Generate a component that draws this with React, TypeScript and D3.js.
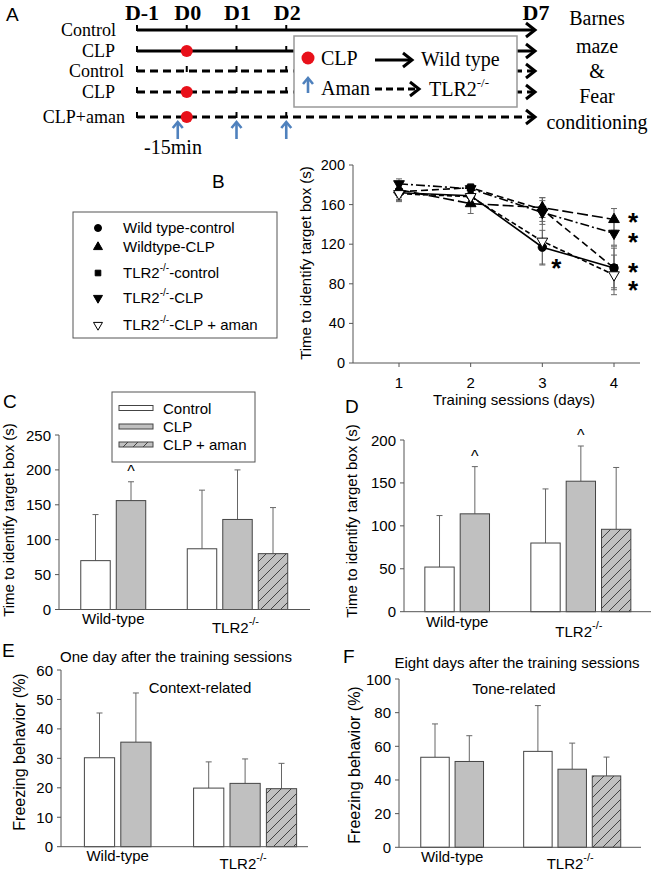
import React from "react";
import * as d3 from "d3";

// ---------------- Panel A: timeline ----------------
const timelineDays = [-1, 0, 1, 2, 7];
const timelineDayLabels = ["D-1", "D0", "D1", "D2", "D7"];
const aRowLabels = ["Control", "CLP", "Control", "CLP", "CLP+aman"];
const aRowDashed = [false, false, true, true, true];
const aRowCLP = [false, true, false, true, true];
const amanDays = [0, 1, 2];
const outcomeLines = ["Barnes", "maze", "&", "Fear", "conditioning"];

// ---------------- Panel B: training sessions ----------------
const sessions = [1, 2, 3, 4];
const bTicks = [0, 40, 80, 120, 160, 200];
const bWTControl = [172, 169, 117, 96];
const bWTControlErr = [8, 8, 17, 22];
const bWTCLP = [175, 161, 157, 145];
const bWTCLPErr = [8, 10, 10, 11];
const bTLRControl = [173, 177, 155, 96];
const bTLRControlErr = [8, 4, 12, 20];
const bTLRCLP = [181, 176, 152, 131];
const bTLRCLPErr = [5, 5, 12, 12];
const bTLRAman = [171, 168, 123, 89];
const bTLRAmanErr = [8, 9, 24, 20];
const bLegendLabels: [string, string, string][] = [
  ["Wild type-control", "", ""],
  ["Wildtype-CLP", "", ""],
  ["TLR2", "-/-", "-control"],
  ["TLR2", "-/-", "-CLP"],
  ["TLR2", "-/-", "-CLP + aman"],
];
// asterisks: [session, value position]
const bStars: [number, number][] = [
  [3, 101],
  [4, 147],
  [4, 127],
  [4, 97],
  [4, 79],
];

// ---------------- Bar panels ----------------
const groupNames = ["Wild-type", "TLR2"];
const seriesNames = ["Control", "CLP", "CLP + aman"];

const cControl = [70, 87];
const cControlErr = [66, 84];
const cCLP = [156, 129];
const cCLPErr = [27, 71];
const cAman = [null, 80];
const cAmanErr = [null, 66];
const cCarets: [number, number][] = [[0, 1]];

const dControl = [52, 80];
const dControlErr = [60, 63];
const dCLP = [114, 152];
const dCLPErr = [55, 41];
const dAman = [null, 96];
const dAmanErr = [null, 72];
const dCarets: [number, number][] = [[0, 1], [1, 1]];

const eControl = [30.2, 19.9];
const eControlErr = [15.2, 8.9];
const eCLP = [35.5, 21.5];
const eCLPErr = [16.7, 8.3];
const eAman = [null, 19.7];
const eAmanErr = [null, 8.6];

const fControl = [53.5, 57];
const fControlErr = [19.8, 27.2];
const fCLP = [51, 46.4];
const fCLPErr = [15.3, 15.5];
const fAman = [null, 42.4];
const fAmanErr = [null, 11.2];

const SANS = "'Liberation Sans', Arial, sans-serif";
const SERIF = "'Liberation Serif', 'Times New Roman', serif";
const AXIS = "#555";
const BAR_STROKE = "#444";
const GREY = "#c0c0c0";
const BLUE = "#4f81bd";
const RED = "#e8101a";

function Chevron({ x, y, color = "#000", w = 3 }: any) {
  return (
    <path
      d={`M${x - 9},${y - 7}L${x},${y}L${x - 9},${y + 7}`}
      fill="none"
      stroke={color}
      strokeWidth={w}
      strokeLinejoin="miter"
    />
  );
}

function UpArrow({ x, yTip, yTail }: any) {
  return (
    <g stroke={BLUE} strokeWidth={2.6} fill="none">
      <line x1={x} y1={yTail} x2={x} y2={yTip + 1} />
      <path d={`M${x - 5},${yTip + 6}L${x},${yTip}L${x + 5},${yTip + 6}`} />
    </g>
  );
}

function PanelA() {
  const ax = d3.scaleLinear().domain([-1, 7]).range([137, 535]);
  const rowY = [30, 51, 71, 92, 117];
  const labelRight = [116, 115, 124, 115, 125];
  const tickDays = timelineDays.filter((d) => d < 7);
  const end = ax(7);
  return (
    <g>
      <text x={6} y={21} fontFamily={SANS} fontSize={19}>A</text>
      {timelineDays.map((d, i) => (
        <text key={i} x={ax(d) + (d === -1 ? 5 : 1)} y={20} textAnchor="middle" fontFamily={SERIF} fontWeight="bold" fontSize={22}>
          {timelineDayLabels[i]}
        </text>
      ))}
      {aRowLabels.map((lab, i) => (
        <g key={i}>
          <text x={labelRight[i]} y={rowY[i] + 6} textAnchor="end" fontFamily={SERIF} fontSize={18}>{lab}</text>
          <line x1={ax(-1)} x2={end - 2} y1={rowY[i]} y2={rowY[i]} stroke="#000" strokeWidth={3} strokeDasharray={aRowDashed[i] ? "8,5" : undefined} />
          {tickDays.map((d) => (
            <line key={d} x1={ax(d)} x2={ax(d)} y1={rowY[i] + 1} y2={rowY[i] - 5} stroke="#000" strokeWidth={2} />
          ))}
          <Chevron x={end} y={rowY[i]} />
          {aRowCLP[i] && <circle cx={ax(0)} cy={rowY[i]} r={6} fill={RED} />}
        </g>
      ))}
      {amanDays.map((d) => (
        <UpArrow key={d} x={ax(d) - (d === 0 ? 9 : 0)} yTip={122} yTail={139} />
      ))}
      <text x={173} y={154} textAnchor="middle" fontFamily={SERIF} fontSize={20}>-15min</text>
      {/* legend box */}
      <rect x={294} y={36} width={223} height={71} fill="#fff" stroke="#999" strokeWidth={1.5} />
      <circle cx={308} cy={58} r={6.5} fill={RED} />
      <text x={321} y={65} fontFamily={SERIF} fontSize={20}>CLP</text>
      <line x1={375} x2={410} y1={60} y2={60} stroke="#000" strokeWidth={3} />
      <Chevron x={412} y={60} />
      <text x={421} y={66} fontFamily={SERIF} fontSize={20}>Wild type</text>
      <UpArrow x={308} yTip={78} yTail={93} />
      <text x={321} y={95} fontFamily={SERIF} fontSize={20}>Aman</text>
      <line x1={375} x2={417} y1={89} y2={89} stroke="#000" strokeWidth={3} strokeDasharray="7,4" />
      <Chevron x={419} y={89} />
      <text x={429} y={96} fontFamily={SERIF} fontSize={20}>
        TLR2<tspan fontSize={13} dy={-9}>-/-</tspan>
      </text>
      {outcomeLines.map((t, i) => (
        <text key={i} x={597} y={[25, 53, 78, 103, 129][i]} textAnchor="middle" fontFamily={SERIF} fontSize={20}>{t}</text>
      ))}
    </g>
  );
}

function PanelB() {
  const bx = d3.scaleLinear().domain([1, 4]).range([399, 614]);
  const by = d3.scaleLinear().domain([0, 200]).range([363, 165]);
  const series = [
    { v: bWTControl, e: bWTControlErr, sym: d3.symbolCircle, size: 55, rot: 0, fill: "#000", dash: undefined },
    { v: bWTCLP, e: bWTCLPErr, sym: d3.symbolTriangle, size: 50, rot: 0, fill: "#000", dash: "11,4" },
    { v: bTLRControl, e: bTLRControlErr, sym: d3.symbolSquare, size: 45, rot: 0, fill: "#000", dash: "7,4" },
    { v: bTLRCLP, e: bTLRCLPErr, sym: d3.symbolTriangle, size: 50, rot: 180, fill: "#000", dash: "9,3,2,3" },
    { v: bTLRAman, e: bTLRAmanErr, sym: d3.symbolTriangle, size: 50, rot: 180, fill: "#fff", dash: "5,3" },
  ];
  const line = d3.line<number>().x((_, i) => bx(sessions[i])).y((d) => by(d));
  const legendBase = [233, 252, 278, 303, 330];
  return (
    <g fontFamily={SANS}>
      <text x={212} y={188} fontSize={19}>B</text>
      {/* legend */}
      <rect x={73} y={212} width={204} height={126} fill="#fff" stroke={AXIS} strokeWidth={1} />
      {series.map((s, i) => (
        <g key={i}>
          <path d={d3.symbol(s.sym, s.size * 0.7)()!} transform={`translate(98,${legendBase[i] - 5}) rotate(${s.rot})`} fill={s.fill} stroke="#000" strokeWidth={1} />
          <text x={123} y={legendBase[i]} fontSize={15}>
            {bLegendLabels[i][0]}
            {bLegendLabels[i][1] && <tspan fontSize={10} dy={-7}>{bLegendLabels[i][1]}</tspan>}
            {bLegendLabels[i][2] && <tspan dy={bLegendLabels[i][1] ? 7 : 0}>{bLegendLabels[i][2]}</tspan>}
          </text>
        </g>
      ))}
      {/* axes */}
      <line x1={353} x2={353} y1={by(200)} y2={by(0)} stroke={AXIS} />
      <line x1={353} x2={640} y1={by(0)} y2={by(0)} stroke={AXIS} />
      {bTicks.map((t) => (
        <g key={t}>
          <line x1={349} x2={353} y1={by(t)} y2={by(t)} stroke={AXIS} />
          <text x={345} y={by(t) + 5} textAnchor="end" fontSize={14.5}>{t}</text>
        </g>
      ))}
      {sessions.map((s) => (
        <g key={s}>
          <line x1={bx(s)} x2={bx(s)} y1={by(0)} y2={by(0) + 4} stroke={AXIS} />
          <text x={bx(s)} y={388} textAnchor="middle" fontSize={15}>{s}</text>
        </g>
      ))}
      <text x={514} y={405} textAnchor="middle" fontSize={15}>Training sessions (days)</text>
      <text transform={`translate(311,${by(100) - 1}) rotate(-90)`} textAnchor="middle" fontSize={15}>Time to identify target box (s)</text>
      {/* error bars */}
      {series.map((s, i) => (
        <g key={i} stroke="#666" strokeWidth={1}>
          {s.v.map((v, j) => {
            const x = bx(sessions[j]);
            return (
              <g key={j}>
                <line x1={x} x2={x} y1={by(v - s.e[j])} y2={by(v + s.e[j])} />
                <line x1={x - 3} x2={x + 3} y1={by(v - s.e[j])} y2={by(v - s.e[j])} />
                <line x1={x - 3} x2={x + 3} y1={by(v + s.e[j])} y2={by(v + s.e[j])} />
              </g>
            );
          })}
        </g>
      ))}
      {series.map((s, i) => (
        <path key={i} d={line(s.v)!} fill="none" stroke="#000" strokeWidth={1.6} strokeDasharray={s.dash} />
      ))}
      {series.map((s, i) => (
        <g key={i}>
          {s.v.map((v, j) => (
            <path key={j} d={d3.symbol(s.sym, s.size)()!} transform={`translate(${bx(sessions[j])},${by(v)}) rotate(${s.rot})`} fill={s.fill} stroke="#000" strokeWidth={1} />
          ))}
        </g>
      ))}
      {bStars.map(([s, v], i) => (
        <text key={i} x={bx(s) + (s === 3 ? 9 : 14)} y={by(v) + 14} fontSize={26} fontWeight="bold">*</text>
      ))}
    </g>
  );
}

function BarPanel({ cfg, control, controlErr, clp, clpErr, aman, amanErr, carets }: any) {
  const y = d3.scaleLinear().domain([0, cfg.yMax]).range([cfg.y0, cfg.yTop]);
  const gx = d3.scaleBand().domain(groupNames).range([cfg.gStart, cfg.gStart + 2 * cfg.gStep]).padding(0);
  const sx = d3.scaleBand().domain(seriesNames).range([0, cfg.gStep]).paddingInner(0.17).paddingOuter(0.085);
  const bw = sx.bandwidth();
  const ticks = d3.range(0, cfg.yMax + 1e-9, cfg.tickStep);
  const vals = [control, clp, aman];
  const errs = [controlErr, clpErr, amanErr];
  const fills = ["#fff", GREY, "url(#hatch)"];
  const barX = (g: number, s: number) => gx(groupNames[g])! + sx(seriesNames[s])!;
  return (
    <g fontFamily={SANS}>
      <text x={cfg.letterX} y={cfg.letterY} fontSize={19}>{cfg.letter}</text>
      {cfg.title && <text x={cfg.titleX} y={cfg.titleY} textAnchor="middle" fontSize={15}>{cfg.title}</text>}
      {cfg.sub && <text x={cfg.subX} y={cfg.subY} textAnchor="middle" fontSize={15}>{cfg.sub}</text>}
      <text transform={`translate(${cfg.ylabX},${cfg.ylabY}) rotate(-90)`} textAnchor="middle" fontSize={cfg.ylabSize}>{cfg.ylab}</text>
      {/* error bars (upper only) */}
      {vals.map((arr: any[], s: number) =>
        arr.map((v, g) =>
          v == null ? null : (
            <g key={`e${s}${g}`} stroke="#666" strokeWidth={1}>
              <line x1={barX(g, s) + bw / 2} x2={barX(g, s) + bw / 2} y1={y(v)} y2={y(v + errs[s][g])} />
              <line x1={barX(g, s) + bw / 2 - 3} x2={barX(g, s) + bw / 2 + 3} y1={y(v + errs[s][g])} y2={y(v + errs[s][g])} />
            </g>
          )
        )
      )}
      {vals.map((arr: any[], s: number) =>
        arr.map((v, g) =>
          v == null ? null : (
            <rect key={`b${s}${g}`} x={barX(g, s)} y={y(v)} width={bw} height={y(0) - y(v)} fill={fills[s]} stroke={BAR_STROKE} strokeWidth={1} />
          )
        )
      )}
      {carets.map(([g, s]: [number, number], i: number) => (
        <text key={i} x={barX(g, s) + bw / 2} y={y(vals[s][g] + errs[s][g]) - 5} textAnchor="middle" fontSize={16}>^</text>
      ))}
      {/* axes */}
      <line x1={cfg.axisX} x2={cfg.axisX} y1={y(cfg.yMax)} y2={y(0)} stroke={AXIS} />
      <line x1={cfg.axisX} x2={cfg.xEnd} y1={y(0)} y2={y(0)} stroke={AXIS} />
      {ticks.map((t: number) => (
        <g key={t}>
          <line x1={cfg.axisX - 4} x2={cfg.axisX} y1={y(t)} y2={y(t)} stroke={AXIS} />
          <text x={cfg.axisX - 8} y={y(t) + 5.5} textAnchor="end" fontSize={15}>{t}</text>
        </g>
      ))}
      <text x={(barX(0, 0) + barX(0, 1) + bw) / 2} y={cfg.wtY} textAnchor="middle" fontSize={15}>Wild-type</text>
      <text x={barX(1, 1) + bw / 2 - 2} y={cfg.tlrY} textAnchor="middle" fontSize={15}>
        TLR2<tspan fontSize={11} dy={-8}>-/-</tspan>
      </text>
      {cfg.legend && (
        <g>
          <rect x={112} y={392} width={143} height={70} fill="#fff" stroke={AXIS} strokeWidth={1} />
          {seriesNames.map((n, i) => (
            <g key={n}>
              <rect x={119} y={[408, 426.5, 444.5][i] - 2.5} width={34} height={5} fill={fills[i]} stroke={BAR_STROKE} strokeWidth={1} />
              <text x={163} y={[408, 426.5, 444.5][i] + 5.5} fontSize={15}>{n}</text>
            </g>
          ))}
        </g>
      )}
    </g>
  );
}

const cCfg = {
  letter: "C", letterX: 3, letterY: 408,
  ylab: "Time to identify target box (s)", ylabX: 14, ylabY: 520, ylabSize: 15,
  axisX: 59, xEnd: 310, y0: 609.5, yTop: 435, yMax: 250, tickStep: 50,
  gStart: 77.75, gStep: 106.5, wtY: 624, tlrY: 633, legend: true,
};
const dCfg = {
  letter: "D", letterX: 345, letterY: 413,
  ylab: "Time to identify target box (s)", ylabX: 357, ylabY: 521, ylabSize: 15,
  axisX: 404, xEnd: 651, y0: 611.7, yTop: 440, yMax: 200, tickStep: 50,
  gStart: 421.85, gStep: 106, wtY: 627, tlrY: 637,
};
const eCfg = {
  letter: "E", letterX: 2, letterY: 657,
  title: "One day after the training sessions", titleX: 176, titleY: 662,
  sub: "Context-related", subX: 200, subY: 693,
  ylab: "Freezing behavior (%)", ylabX: 25, ylabY: 752, ylabSize: 16,
  axisX: 61, xEnd: 308, y0: 846.7, yTop: 670, yMax: 60, tickStep: 10,
  gStart: 81.3, gStep: 109.2, wtY: 861, tlrY: 869,
};
const fCfg = {
  letter: "F", letterX: 343, letterY: 663,
  title: "Eight days after the training sessions", titleX: 517, titleY: 668,
  sub: "Tone-related", subX: 514, subY: 694,
  ylab: "Freezing behavior (%)", ylabX: 360, ylabY: 765, ylabSize: 16,
  axisX: 399, xEnd: 641, y0: 847.3, yTop: 679, yMax: 100, tickStep: 20,
  gStart: 417.85, gStep: 102.9, wtY: 862, tlrY: 869,
};

export default function App() {
  return (
    <svg width={651} height={872} style={{ position: "absolute", left: 0, top: 0, background: "#fff" }}>
      <defs>
        <pattern id="hatch" patternUnits="userSpaceOnUse" width={10} height={10}>
          <rect width={10} height={10} fill={GREY} />
          <path d="M-2,2L2,-2M0,10L10,0M8,12L12,8" stroke="#333" strokeWidth={0.9} />
        </pattern>
      </defs>
      <rect width={651} height={872} fill="#fff" />
      <PanelA />
      <PanelB />
      <BarPanel cfg={cCfg} control={cControl} controlErr={cControlErr} clp={cCLP} clpErr={cCLPErr} aman={cAman} amanErr={cAmanErr} carets={cCarets} />
      <BarPanel cfg={dCfg} control={dControl} controlErr={dControlErr} clp={dCLP} clpErr={dCLPErr} aman={dAman} amanErr={dAmanErr} carets={dCarets} />
      <BarPanel cfg={eCfg} control={eControl} controlErr={eControlErr} clp={eCLP} clpErr={eCLPErr} aman={eAman} amanErr={eAmanErr} carets={[]} />
      <BarPanel cfg={fCfg} control={fControl} controlErr={fControlErr} clp={fCLP} clpErr={fCLPErr} aman={fAman} amanErr={fAmanErr} carets={[]} />
    </svg>
  );
}
